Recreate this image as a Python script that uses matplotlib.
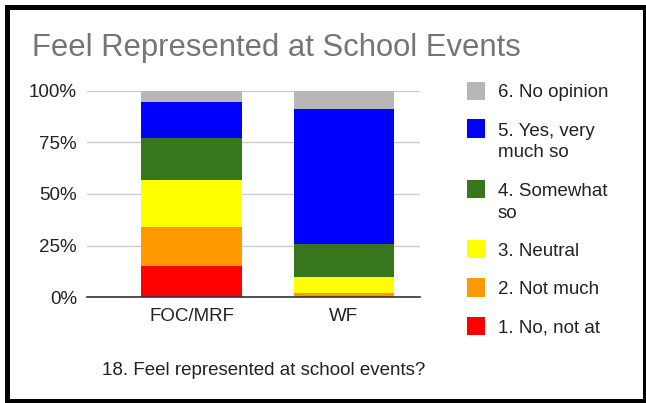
import matplotlib
matplotlib.use("Agg")
import matplotlib.pyplot as plt
from matplotlib.patches import Rectangle
import numpy as np

plt.rcParams['font.family'] = ['Liberation Sans', 'DejaVu Sans']

title = "Feel Represented at School Events"
caption = "18. Feel represented at school events?"
categories = ["FOC/MRF", "WF"]
series_labels = ["1. No, not at", "2. Not much", "3. Neutral", "4. Somewhat\nso",
                 "5. Yes, very\nmuch so", "6. No opinion"]
# percentages per series (bottom to top)
no_not_at_all = [15.2, 0.0]
not_much = [19.0, 1.9]
neutral = [22.5, 7.8]
somewhat = [20.7, 16.1]
yes_very = [17.1, 65.5]
no_opinion = [5.5, 8.7]
series_values = [no_not_at_all, not_much, neutral, somewhat, yes_very, no_opinion]
colors = ["#ff0000", "#ff9900", "#ffff00", "#38761d", "#0000ff", "#b7b7b7"]
yticks = [0, 25, 50, 75, 100]
ytick_labels = ["0%", "25%", "50%", "75%", "100%"]

W, H = 646, 403
FS = 13.5
fig = plt.figure(figsize=(W / 100, H / 100), dpi=100)
ax = fig.add_axes([87 / W, 1 - 297 / H, (420 - 87) / W, (297 - 91) / H])

x = np.arange(len(categories))
bottom = np.zeros(len(categories))
bars = []
for vals, col in zip(series_values, colors):
    b = ax.bar(x, vals, width=0.658, bottom=bottom, color=col, edgecolor='none', zorder=3)
    bars.append(b)
    bottom += np.array(vals)

ax.set_xlim(-0.6875, 1.503)
ax.set_ylim(0, 100)
ax.set_yticks(yticks)
ax.set_yticklabels(ytick_labels)
ax.set_xticks(x)
ax.set_xticklabels(categories)
ax.tick_params(axis='y', length=0, pad=7.2, labelsize=FS, labelcolor='#222222')
ax.tick_params(axis='x', length=0, pad=7.6, labelsize=FS, labelcolor='#222222')
ax.grid(axis='y', color='#cccccc', linewidth=1.0, zorder=0)
for s in ['top', 'right', 'left']:
    ax.spines[s].set_visible(False)
ax.spines['bottom'].set_color('#333333')
ax.spines['bottom'].set_linewidth(1.2)
ax.spines['bottom'].set_zorder(4)

fig.text(32 / W, 1 - 56 / H, title, fontsize=22.3, color='#757575', ha='left', va='baseline')
fig.text(264 / W, 1 - 375 / H, caption, fontsize=FS, color='#222222', ha='center', va='baseline')

# legend (top to bottom)
sq_tops = [81.7, 119.3, 180, 240, 278.3, 316.7]
baselines = [97.3, 135.7, 196, 255.7, 294, 332.3]
for i, idx in enumerate(range(len(series_labels) - 1, -1, -1)):
    fig.patches.append(Rectangle((467 / W, 1 - (sq_tops[i] + 18.3) / H), 18 / W, 18.3 / H,
                                 transform=fig.transFigure, facecolor=colors[idx],
                                 edgecolor='none'))
    lines = series_labels[idx].split('\n')
    for j, ln in enumerate(lines):
        fig.text(498 / W, 1 - (baselines[i] + 21.5 * j) / H, ln, fontsize=FS,
                 color='#222222', ha='left', va='baseline')

# outer frame
fig.patches.append(Rectangle((6.5 / W, 1 - 400.5 / H), 638 / W, 394 / H,
                             transform=fig.transFigure, facecolor='none',
                             edgecolor='black', linewidth=3.6))

fig.savefig("out.png", dpi=100)
